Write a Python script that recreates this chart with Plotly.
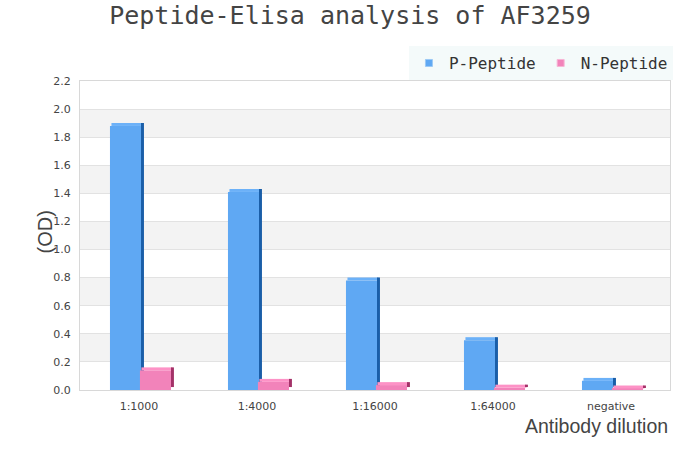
import plotly.graph_objects as go

categories = ["1:1000", "1:4000", "1:16000", "1:64000", "negative"]
p_peptide = [1.88, 1.41, 0.78, 0.355, 0.065]
n_peptide = [0.14, 0.058, 0.035, 0.017, 0.011]
y_ticks = [0.0, 0.2, 0.4, 0.6, 0.8, 1.0, 1.2, 1.4, 1.6, 1.8, 2.0, 2.2]

# style constants (3D look)
BAR_W = 0.263
DEPTH_X = 0.025
DEPTH_Y = 0.021
BLUE_FACE, BLUE_TOP, BLUE_SIDE = "#5fa8f3", "#6cb1f8", "#1a5ea8"
PINK_FACE, PINK_TOP, PINK_SIDE = "#f283ba", "#fd92c6", "#a33268"

fig = go.Figure()

def add_3d_bar(values, offset, face, top, side, name):
    n = len(values)
    fig.add_trace(go.Bar(x=categories, y=values, offset=offset, width=BAR_W,
                         marker=dict(color=face, line=dict(width=0)),
                         showlegend=False, hoverinfo="skip", name=name))
    fig.add_trace(go.Bar(x=categories, y=[DEPTH_Y] * n, base=values,
                         offset=offset + DEPTH_X / 2, width=BAR_W,
                         marker=dict(color=top, line=dict(width=0)),
                         showlegend=False, hoverinfo="skip"))
    fig.add_trace(go.Bar(x=categories, y=values, base=[DEPTH_Y] * n,
                         offset=offset + BAR_W, width=DEPTH_X,
                         marker=dict(color=side, line=dict(width=0)),
                         showlegend=False, hoverinfo="skip"))

add_3d_bar(p_peptide, -0.246, BLUE_FACE, BLUE_TOP, BLUE_SIDE, "P-Peptide")
add_3d_bar(n_peptide, 0.008, PINK_FACE, PINK_TOP, PINK_SIDE, "N-Peptide")

# legend entries
fig.add_trace(go.Scatter(x=[None], y=[None], mode="markers", name="P-Peptide",
                         marker=dict(symbol="square", size=7, color="#5fa8f3",
                                     line=dict(color="#9cc9f5", width=1))))
fig.add_trace(go.Scatter(x=[None], y=[None], mode="markers", name="N-Peptide",
                         marker=dict(symbol="square", size=7, color="#f283ba",
                                     line=dict(color="#f7b5d5", width=1))))

# alternating background bands
shapes = []
for i in range(len(y_ticks) - 1):
    if i % 2 == 1:
        shapes.append(dict(type="rect", xref="paper", yref="y", x0=0, x1=1,
                           y0=y_ticks[i], y1=y_ticks[i + 1],
                           fillcolor="#f3f3f3", line=dict(width=0), layer="below"))

fig.update_layout(
    width=700, height=450,
    margin=dict(l=80, r=30, t=81, b=60),
    paper_bgcolor="white", plot_bgcolor="white",
    barmode="overlay",
    shapes=shapes,
    title=dict(text="Peptide-Elisa analysis of AF3259", x=0.5, xref="container",
               xanchor="center", y=0.985, yanchor="top",
               font=dict(family="DejaVu Sans Mono", size=25, color="#444444")),
    legend=dict(orientation="h", x=1.005, xanchor="right", y=1.113, yanchor="top",
                bgcolor="#f4fafa", font=dict(family="DejaVu Sans Mono", size=16, color="#333333"),
                itemwidth=30, tracegroupgap=0),
    xaxis=dict(type="category", showgrid=False, showline=True, mirror=True,
               linecolor="#d8d8d8", linewidth=1, ticks="", ticklabelstandoff=6,
               tickfont=dict(family="DejaVu Sans", size=11, color="#444444"),
               range=[-0.5, 4.5]),
    yaxis=dict(range=[0, 2.2], tickvals=y_ticks, tickformat=".1f",
               showgrid=True, gridcolor="#e2e2e2", gridwidth=1,
               showline=True, mirror=True, linecolor="#d8d8d8", linewidth=1,
               ticks="", ticklabelstandoff=6, zeroline=False,
               tickfont=dict(family="DejaVu Sans", size=11, color="#444444")),
    annotations=[
        dict(text="(OD)", xref="paper", yref="paper", x=-0.0593, y=0.51,
             xanchor="center", yanchor="middle", textangle=-90, showarrow=False,
             font=dict(family="Liberation Sans", size=20, color="#444444")),
        dict(text="Antibody dilution", xref="paper", yref="paper", x=1.0, y=-0.116,
             xanchor="right", yanchor="middle", showarrow=False,
             font=dict(family="Liberation Sans", size=19.5, color="#444444")),
    ],
)

fig.write_html("out.html", config={"displayModeBar": False},
               post_script="document.body.style.margin='0';document.body.style.padding='0';")
